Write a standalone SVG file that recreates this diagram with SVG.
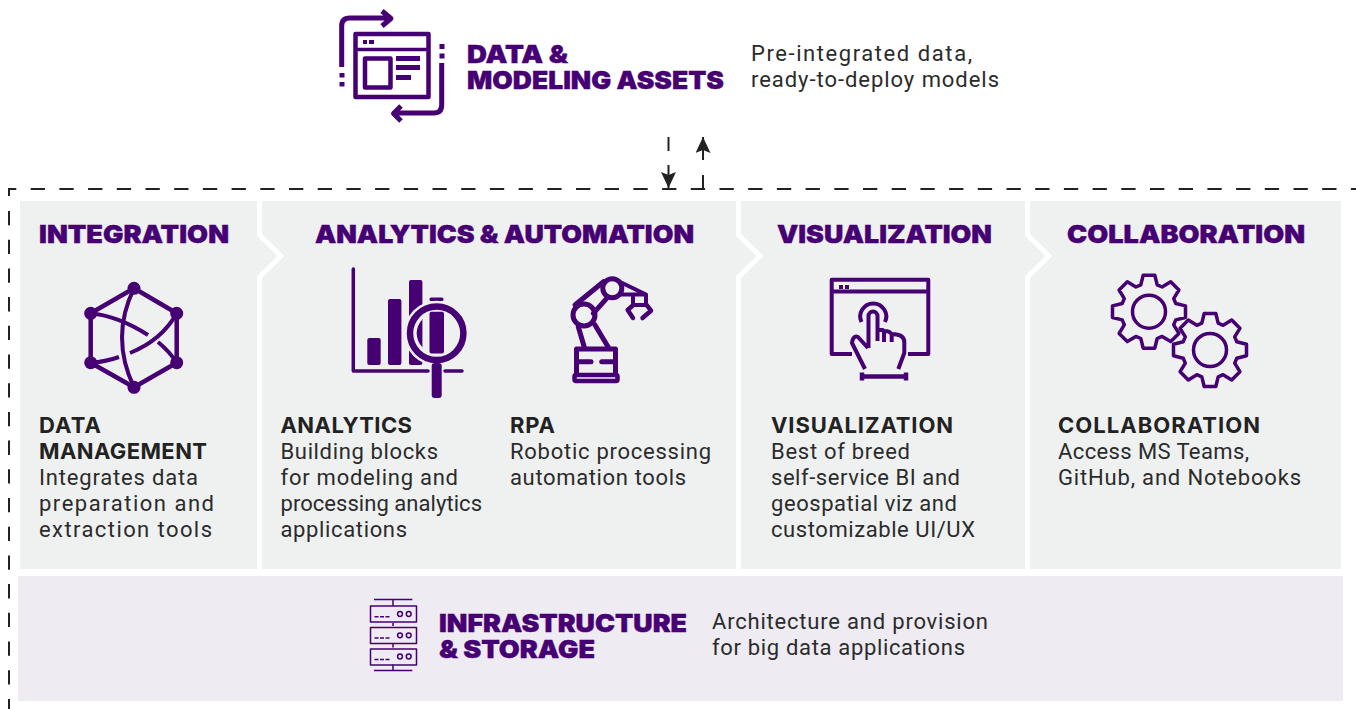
<svg xmlns="http://www.w3.org/2000/svg" width="1356" height="709" viewBox="0 0 1356 709">
<style>
text{font-family:"Inter","Liberation Sans",sans-serif}
.h{font-weight:900;font-size:24.500px;fill:#460073;stroke:#460073;stroke-width:.4}
.t{font-weight:900;font-size:24.500px;fill:#460073;stroke:#460073;stroke-width:.4}
.b{font-weight:400;font-size:22px;fill:#2b2b2b;font-family:"Roboto","Liberation Sans",sans-serif}
.s{font-weight:700;font-size:22px;fill:#222;font-family:"Inter","Liberation Sans",sans-serif}
.i{fill:none;stroke:#460073;stroke-width:4;stroke-linejoin:round}
.f{fill:#460073;stroke:none}
.d{fill:none;stroke:#222;stroke-width:2;stroke-dasharray:14.3 14.4}
.c{fill:none;stroke:#222;stroke-width:2}
.w{fill:none;stroke:#fff;stroke-width:5}
</style>
<defs>
<marker id="ah" markerUnits="userSpaceOnUse" markerWidth="17" markerHeight="16" refX="16" refY="7.500" orient="auto">
<path d="M0,0 L16,7.500 L0,15 L3,7.500 Z" fill="#222"/>
</marker>
<clipPath id="lens"><circle cx="436.700" cy="333.300" r="20"/></clipPath>
<path id="gear" d="M26.800,-8.200L36.500,-5.800L36.500,5.800L26.800,8.200L24.700,13.100L29.900,21.700L21.700,29.900L13.100,24.700L8.200,26.800L5.800,36.500L-5.800,36.500L-8.200,26.800L-13.100,24.700L-21.700,29.900L-29.900,21.700L-24.700,13.100L-26.800,8.200L-36.500,5.800L-36.500,-5.800L-26.800,-8.200L-24.700,-13.100L-29.900,-21.700L-21.700,-29.900L-13.100,-24.700L-8.200,-26.800L-5.800,-36.500L5.800,-36.500L8.200,-26.800L13.100,-24.700L21.700,-29.900L29.900,-21.700L24.700,-13.100Z"/>
</defs>
<rect width="1356" height="709" fill="#fff"/>

<g id="panels">
<rect x="20" y="201" width="1321" height="368" fill="#eff1f1"/>
<rect x="18" y="576" width="1325" height="125" fill="#eeebf2"/>
<path class="w" d="M259.500,201V235L281,256L259.500,277V569"/>
<path class="w" d="M738.500,201V235L760,256L738.500,277V569"/>
<path class="w" d="M1027.500,201V235L1049,256L1027.500,277V569"/>
</g>

<g id="connectors">
<path class="d" d="M9,196V189H1356"/>
<path class="d" d="M9,211V709"/>
<path class="c" d="M668.500,137V151"/>
<path class="c" d="M668.500,165V188" marker-end="url(#ah)"/>
<path class="c" d="M703,160V137" marker-end="url(#ah)"/>
<path class="c" d="M703,175V189"/>
</g>

<g id="node-data-assets">
<g class="i">
<rect x="355.500" y="34" width="73" height="63" style="stroke-width:4.500"/>
<path style="stroke-width:3.500" d="M355,49.500H429"/>
<rect x="365" y="58.500" width="25.500" height="29" style="stroke-width:4.500"/>
<path style="stroke-width:4.800" d="M396,58.500H420M396,67.500H420M396,77.500H411"/>
<path style="stroke-width:5" d="M341.700,67V26Q341.700,18 349.700,18H390M382,11L391,18.500L382,26"/>
<path style="stroke-width:5" d="M441.700,63V105Q441.700,113 433.700,113H395M401,106L393.500,113.500L401,121"/>
</g>
<path class="f" d="M363,40h4v4h-4zM369,40h5v4h-5zM339.500,73h5v4.500h-5zM339.500,82h5v4.500h-5zM439.500,44h5v5h-5zM439.500,53.500h5v5h-5z"/>
<text class="t" x="467" y="63" textLength="101" lengthAdjust="spacingAndGlyphs">DATA &amp;</text>
<text class="t" x="467" y="89" textLength="257" lengthAdjust="spacingAndGlyphs">MODELING ASSETS</text>
<text class="b" x="751" y="61" textLength="221">Pre-integrated data,</text>
<text class="b" x="751" y="87" textLength="248">ready-to-deploy models</text>
</g>

<g id="node-integration">
<text class="h" x="39" y="243" textLength="190" lengthAdjust="spacingAndGlyphs">INTEGRATION</text>
<path class="i" style="stroke-width:4.500" d="M134,288.300L176.700,313.300V362.700L134,387.300L90.700,362.700V313.300Z"/>
<path class="i" d="M134,288.300Q110,337 134,387.300"/>
<path class="i" d="M90.700,313.300Q118,316 148,335M158,342Q170,352 176.700,362.700"/>
<path class="i" d="M176.700,313.300Q162,340 130,353M119,357Q105,362 90.700,362.700"/>
<g class="f"><circle cx="134" cy="288.300" r="6.500"/><circle cx="176.700" cy="313.300" r="6.500"/><circle cx="176.700" cy="362.700" r="6.500"/><circle cx="134" cy="387.300" r="6.500"/><circle cx="90.700" cy="362.700" r="6.500"/><circle cx="90.700" cy="313.300" r="6.500"/></g>
<text class="s" x="39" y="433" textLength="62">DATA</text>
<text class="s" x="39" y="459" textLength="168">MANAGEMENT</text>
<text class="b" x="39" y="485" textLength="159">Integrates data</text>
<text class="b" x="39" y="511" textLength="175">preparation and</text>
<text class="b" x="39" y="537" textLength="173">extraction tools</text>
</g>

<g id="node-analytics">
<text class="h" x="315" y="243" textLength="379" lengthAdjust="spacingAndGlyphs">ANALYTICS &amp; AUTOMATION</text>
<path class="i" style="stroke-linecap:round;stroke-width:3.500" d="M353.300,269V371H428M445,371H462"/>
<g class="f">
<rect x="367.300" y="338" width="13.400" height="27" rx="2"/>
<rect x="388" y="299" width="13.400" height="66" rx="2"/>
<rect x="409" y="280" width="13.400" height="85" rx="2"/>
<rect x="429.500" y="297.500" width="14" height="3.500" rx="1.500"/>
</g>
<circle cx="436.700" cy="333.300" r="32.500" fill="#eff1f1"/>
<rect class="f" x="409" y="300" width="13.400" height="65" clip-path="url(#lens)"/>
<circle cx="436.700" cy="333.300" r="26.700" class="i" style="stroke-width:6.500"/>
<rect class="f" x="429.500" y="311.700" width="14.500" height="41.700" rx="2"/>
<rect class="f" x="431.700" y="363" width="10" height="35" rx="3"/>
<text class="s" x="280.500" y="433" textLength="131.500">ANALYTICS</text>
<text class="b" x="280.500" y="459" textLength="157.500">Building blocks</text>
<text class="b" x="280.500" y="485" textLength="177.500">for modeling and</text>
<text class="b" x="280.500" y="511" textLength="201.500">processing analytics</text>
<text class="b" x="280.500" y="537" textLength="126.500">applications</text>
</g>

<g id="node-rpa">
<g class="i" style="stroke-linecap:round;stroke-width:5">
<circle cx="584" cy="315" r="11"/>
<circle cx="612.300" cy="288.300" r="9.500"/>
<path d="M575,305L603.500,281.700M593.300,313.300L606.700,298.300"/>
<path d="M578.300,326.700L584.300,347.300M595,325L608.300,347.300"/>
<path d="M576.500,373V349H615.500V373M576.500,361.700H591M601.700,361.700H615.500"/>
<rect x="574.500" y="375" width="43" height="6" rx="1.500" style="stroke-width:4.500"/>
<path style="stroke-width:4" d="M621.700,282.700L646,294.500V305H633V296M620,294.500H646"/>
<path style="stroke-width:4.500" d="M633.300,305L627.700,310L633,318M646.700,305L651,310.700L642.500,318"/>
</g>
<text class="s" x="510" y="433" textLength="45">RPA</text>
<text class="b" x="510" y="459" textLength="201">Robotic processing</text>
<text class="b" x="510" y="485" textLength="176">automation tools</text>
</g>

<g id="node-visualization">
<text class="h" x="777" y="243" textLength="215" lengthAdjust="spacingAndGlyphs">VISUALIZATION</text>
<g class="i">
<path d="M852,354H831.700V279.800H928.300V354H908M831.700,291.500H928.300"/>
<path style="stroke-width:4" d="M861.500,322A13,13 0 1 1 885,322"/>
<path d="M868.500,348V316A4.500,4.500 0 0 1 877.500,316V341M877.500,330H882Q884,330 884,333V342M884,331Q891,331 891.700,335V342M891.700,334Q904.300,334 904.300,342V353L898.300,369M868,348L858,337Q853,335 852,343L865,369"/>
<path d="M861,376.500H907M862,372.500V380.500M906,372.500V380.500" style="stroke-width:4.500"/>
</g>
<path class="f" d="M839,285h4v4h-4zM845,285h4v4h-4z"/>
<text class="s" x="771" y="433" textLength="182">VISUALIZATION</text>
<text class="b" x="771" y="459" textLength="139">Best of breed</text>
<text class="b" x="771" y="485" textLength="189">self-service BI and</text>
<text class="b" x="771" y="511" textLength="186">geospatial viz and</text>
<text class="b" x="771" y="537" textLength="204">customizable UI/UX</text>
</g>

<g id="node-collaboration">
<text class="h" x="1067" y="243" textLength="238" lengthAdjust="spacingAndGlyphs">COLLABORATION</text>
<use href="#gear" x="1149" y="311.700" class="i" style="stroke-width:3.500"/>
<circle cx="1149" cy="311.700" r="16.500" class="i" style="stroke-width:3.500"/>
<use href="#gear" x="1210" y="350" class="i" style="stroke-width:3.500;fill:#eff1f1"/>
<circle cx="1210" cy="350" r="16.500" class="i" style="stroke-width:3.500"/>
<text class="s" x="1058" y="433" textLength="202">COLLABORATION</text>
<text class="b" x="1058" y="459" textLength="191">Access MS Teams,</text>
<text class="b" x="1058" y="485" textLength="243">GitHub, and Notebooks</text>
</g>

<g id="node-infrastructure">
<g class="i" style="stroke-width:1.500">
<path d="M374,599.500H412.300M393,599.500V606M393,623V626M393,644V647.500M393,664.500V670.500M374,670.500H412.300"/>
<rect x="370.500" y="606" width="46" height="16"/>
<rect x="370.500" y="627.500" width="46" height="16"/>
<rect x="370.500" y="649" width="46" height="16"/>
<path stroke-dasharray="4 1.500" d="M374.500,616.700H389.500M374.500,638H389.500M374.500,659.500H389.500"/>
<circle cx="400" cy="614" r="2.400"/><circle cx="408.700" cy="614" r="2.400"/>
<circle cx="400" cy="635.300" r="2.400"/><circle cx="408.700" cy="635.300" r="2.400"/>
<circle cx="400" cy="656.500" r="2.400"/><circle cx="408.700" cy="656.500" r="2.400"/>
</g>
<text class="t" x="439" y="632" textLength="248" lengthAdjust="spacingAndGlyphs">INFRASTRUCTURE</text>
<text class="t" x="439" y="658" textLength="156" lengthAdjust="spacingAndGlyphs">&amp; STORAGE</text>
<text class="b" x="712" y="629" textLength="276">Architecture and provision</text>
<text class="b" x="712" y="655" textLength="253">for big data applications</text>
</g>
</svg>
